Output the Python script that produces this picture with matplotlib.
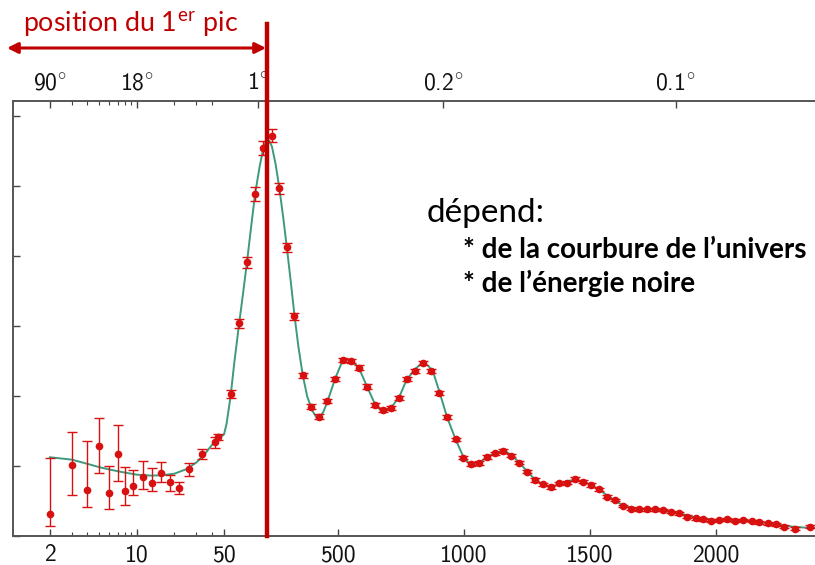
import matplotlib
matplotlib.use("Agg")
import matplotlib.pyplot as plt
import numpy as np

# ---- data (multipole l, D_l in muK^2) ----
data_l = [2, 3, 4, 5, 6, 7, 8, 9.3, 11.2, 13.1, 15.6, 18.4, 21.7, 26, 33.1, 42.3, 45,
          76, 110, 141, 173, 205, 239, 269, 299, 329, 362, 395, 427, 460, 490,
          521, 552, 585, 616, 649, 680, 712, 744, 774, 807, 839, 872, 904, 934,
          968, 999, 1029, 1061, 1094, 1124, 1155, 1188, 1220, 1253, 1283, 1316,
          1348, 1378, 1411, 1442, 1475, 1506, 1538, 1570, 1600, 1631, 1664, 1695,
          1728, 1759, 1792, 1822, 1854, 1887, 1920, 1950, 1981, 2014, 2046, 2076,
          2109, 2142, 2172, 2206, 2237, 2270, 2314, 2373]
data_D = [310, 1014, 653, 1290, 610, 1171, 647, 714, 838, 762, 905, 767, 686, 953, 1171, 1339, 1419,
          2025, 3034, 3906, 4877, 5535, 5716, 4963, 4120, 3134, 2296, 1848, 1705, 1925, 2239,
          2515, 2501, 2405, 2134, 1872, 1800, 1829, 1972, 2243, 2353, 2472, 2353, 2039, 1696,
          1380, 1119, 1029, 1043, 1129, 1181, 1215, 1148, 1048, 919, 800, 738,
          696, 753, 762, 815, 776, 729, 667, 562, 514, 429, 390, 381,
          381, 381, 372, 343, 324, 276, 253, 239, 219, 229, 239, 219,
          229, 214, 196, 181, 167, 133, 104, 133]
err_lo = [163, 428, 243, 394, 229, 381, 209, 133, 162, 119, 134, 124, 86, 91, 71, 86, 47,
          60, 70, 80, 100, 100, 90, 76, 64, 45, 36] + [30] * 18 + [25] * 20 + [20] * 24
err_hi = [800, 476, 709, 400, 395, 415, 334, 229, 229, 205, 148, 104, 90, 95, 72, 71, 34,
          60, 70, 80, 100, 100, 90, 76, 64, 45, 36] + [30] * 18 + [25] * 20 + [20] * 24

# best-fit model curve
model_l = [2, 3, 4, 5, 6, 7, 8, 10, 13, 16, 20, 25, 30, 35, 40, 45, 50,
           60, 76, 90, 110, 125, 141, 157, 173, 190, 205, 215, 222, 230, 240, 255,
           270, 285, 300, 315, 330, 345, 362, 380, 400, 415, 430, 445, 460, 490,
           515, 537, 560, 585, 616, 649, 670, 690, 712, 744, 774, 807, 835, 860,
           880, 904, 934, 968, 999, 1020, 1040, 1061, 1094, 1124, 1150, 1175, 1200,
           1220, 1253, 1283, 1316, 1340, 1365, 1390, 1420, 1445, 1475, 1506, 1538,
           1570, 1600, 1631, 1664, 1700, 1760, 1800, 1850, 1900, 1950, 2000, 2050,
           2100, 2150, 2200, 2250, 2300, 2350, 2400]
model_D = [1124, 1090, 1030, 982, 950, 925, 905, 875, 862, 868, 890, 955, 1050, 1170, 1300, 1390, 1450,
           1600, 1990, 2450, 3034, 3450, 3906, 4400, 4877, 5250, 5520, 5620, 5650, 5640, 5560, 5300,
           4950, 4540, 4090, 3620, 3130, 2700, 2300, 1990, 1790, 1700, 1700, 1780, 1920, 2240,
           2460, 2520, 2490, 2400, 2140, 1880, 1800, 1790, 1830, 1980, 2230, 2380, 2470, 2430,
           2330, 2060, 1700, 1380, 1130, 1040, 1025, 1045, 1130, 1185, 1210, 1190, 1120,
           1050, 920, 805, 735, 705, 720, 760, 790, 800, 775, 725, 660,
           575, 505, 440, 400, 385, 380, 365, 330, 280, 245, 228, 230,
           225, 210, 185, 160, 135, 120, 115]

bottom_ticks = [2, 10, 50, 500, 1000, 1500, 2000]
bottom_minor = [3, 4, 5, 6, 7, 8, 9, 20, 30, 40]
top_ticks = [2, 10, 184, 920, 1840]
top_labels = ["90", "18", "1", "0.2", "0.1"]   # degrees
y_ticks = [0, 1000, 2000, 3000, 4000, 5000, 6000]
peak_l = 222

# log scale up to l=50, linear above
L_SPLIT = 50.0
C_LIN = 0.2522 / 124.5


def fwd(l):
    l = np.asarray(l, float)
    lc = np.clip(l, 1e-3, None)
    return np.where(l <= L_SPLIT, np.log10(lc), np.log10(L_SPLIT) + (l - L_SPLIT) * C_LIN)


def inv(u):
    u = np.asarray(u, float)
    u0 = np.log10(L_SPLIT)
    return np.where(u <= u0, 10 ** np.minimum(u, u0), L_SPLIT + (u - u0) / C_LIN)


red = "#d81010"
dark_red = "#c00000"
tick_font = "cmss10"
plt.rcParams["mathtext.fontset"] = "cm"

fig = plt.figure(figsize=(8.15, 5.65), dpi=100)
ax = fig.add_axes([13 / 815, 29 / 565, 802 / 815, 435 / 565])

ax.plot(model_l, model_D, color="#3d9a7c", lw=1.4, zorder=2)
lo = np.array(err_lo)
hi = np.array(err_hi)
ax.errorbar(data_l, data_D, yerr=[lo, hi], fmt="o", color=red, ms=4.5,
            elinewidth=1.0, capsize=3.5, capthick=1.0, zorder=3)

ax.set_xscale("function", functions=(fwd, inv))
ax.set_xlim(1.01, 2393)
ax.set_ylim(0, 6210)

ax.set_xticks(bottom_ticks, [str(t) for t in bottom_ticks])
ax.set_xticks(bottom_minor, minor=True)
ax.xaxis.set_minor_formatter(matplotlib.ticker.NullFormatter())
ax.set_yticks(y_ticks, [""] * len(y_ticks))
ax.tick_params(axis="both", which="major", direction="in", length=5, width=1, colors="#444444", pad=6)
ax.tick_params(axis="both", which="minor", direction="in", length=3, width=0.8, colors="#444444")
ax.tick_params(axis="x", labelcolor="#111111", labelsize=17)
for lab in ax.get_xticklabels():
    lab.set_family(tick_font)

ax2 = ax.twiny()
ax2.set_xscale("function", functions=(fwd, inv))
ax2.set_xlim(ax.get_xlim())
ax2.set_xticks(top_ticks, [t + r"$^{\circ}$" for t in top_labels])
ax2.set_xticks(bottom_minor, minor=True)
ax2.xaxis.set_minor_formatter(matplotlib.ticker.NullFormatter())
ax2.tick_params(axis="x", which="major", direction="in", length=5, width=1, colors="#444444",
                labelcolor="#111111", labelsize=17, pad=5)
ax2.tick_params(axis="x", which="minor", direction="in", length=3, width=0.8, colors="#444444")
for lab in ax2.get_xticklabels():
    lab.set_family(tick_font)

for a in (ax, ax2):
    a.spines["right"].set_visible(False)
    for s in ("left", "top", "bottom"):
        a.spines[s].set_color("#555555")
        a.spines[s].set_linewidth(1.2)

# vertical marker of the first peak, running up above the axes
ax2.axvline(peak_l, ymin=0, ymax=512 / 435, color=dark_red, lw=3.2, clip_on=False, zorder=6)

# arrow + label
ax2.annotate("", xy=(266, 517), xytext=(7, 517), xycoords="figure pixels", textcoords="figure pixels",
             arrowprops=dict(arrowstyle="<|-|>", color=dark_red, lw=2.2, mutation_scale=16,
                             shrinkA=0, shrinkB=0), annotation_clip=False)
fig.text(23 / 815, 1 - 32 / 565, r"position du 1$^{\mathregular{er}}$ pic", color=dark_red,
         fontsize=19.3, family="Lato", va="baseline", ha="left")

fig.text(427 / 815, 1 - 222 / 565, "dépend:", fontsize=24, family="Lato", va="baseline", ha="left")
fig.text(463 / 815, 1 - 258 / 565, "* de la courbure de l’univers", fontsize=20, family="Lato",
         weight="bold", va="baseline", ha="left")
fig.text(463 / 815, 1 - 292 / 565, "* de l’énergie noire", fontsize=20, family="Lato",
         weight="bold", va="baseline", ha="left")

fig.savefig("out.png", dpi=100)
